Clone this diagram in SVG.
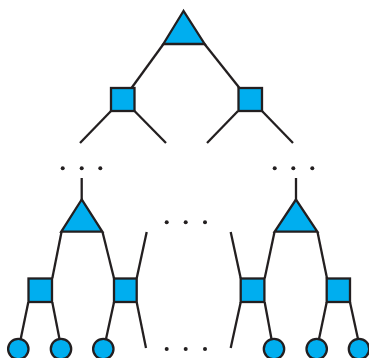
<svg xmlns="http://www.w3.org/2000/svg" width="369" height="358" viewBox="0 0 369 358">
  <style>
    .node { fill: #00AEEF; stroke: #231F20; stroke-width: 2.3; stroke-linejoin: miter; }
    .edge { fill: none; stroke: #231F20; stroke-width: 2.3; stroke-linecap: butt; }
    .dot { fill: #231F20; }
  </style>
  <rect width="369" height="358" fill="#ffffff"/>

  <!-- connectors -->
  <g id="connectors" class="edge">
    <!-- root to level-1 squares -->
    <line x1="163.5" y1="44" x2="131.5" y2="88"/>
    <line x1="204.5" y1="44" x2="239.5" y2="88"/>
    <!-- open branches below level-1 squares -->
    <line x1="111" y1="111" x2="80" y2="143"/>
    <line x1="134.5" y1="111" x2="166" y2="143"/>
    <line x1="238" y1="111" x2="207" y2="143"/>
    <line x1="262" y1="111" x2="293" y2="143"/>
    <!-- stems into lower triangles -->
    <line x1="81.7" y1="178" x2="81.7" y2="200"/>
    <line x1="296" y1="178" x2="296" y2="200"/>
    <!-- left subtree -->
    <line x1="61.5" y1="232" x2="52.3" y2="278.3"/>
    <line x1="102.5" y1="232" x2="114" y2="278.3"/>
    <line x1="136.7" y1="278.3" x2="146.7" y2="232"/>
    <line x1="136.7" y1="302.3" x2="146" y2="348"/>
    <line x1="28.3" y1="302.3" x2="20.7" y2="339"/>
    <line x1="52.3" y1="302.3" x2="59.5" y2="339"/>
    <line x1="114" y1="302.3" x2="106" y2="339"/>
    <!-- right subtree -->
    <line x1="240.7" y1="278.3" x2="230.7" y2="232"/>
    <line x1="240.7" y1="302.3" x2="230.7" y2="348"/>
    <line x1="274.5" y1="232" x2="264.7" y2="278.3"/>
    <line x1="317.5" y1="232" x2="327" y2="278.3"/>
    <line x1="264.7" y1="302.3" x2="271.5" y2="339"/>
    <line x1="326.7" y1="302.3" x2="319" y2="339"/>
    <line x1="350" y1="302.3" x2="358" y2="339"/>
  </g>

  <!-- root -->
  <g id="root"><polygon class="node" points="183.5,11 163.3,44 204.7,44"/></g>

  <!-- level-1 squares -->
  <g id="sq-top-left"><rect class="node" x="111" y="88" width="23.5" height="23"/></g>
  <g id="sq-top-right"><rect class="node" x="238.5" y="88" width="23.5" height="23"/></g>

  <!-- lower triangles -->
  <g id="tri-left"><polygon class="node" points="81.7,199.5 61.3,231.7 102.3,231.7"/></g>
  <g id="tri-right"><polygon class="node" points="296,199.5 274.7,231.7 317.3,231.7"/></g>

  <!-- lower squares -->
  <g id="sq-1"><rect class="node" x="28.5" y="278.5" width="23.5" height="23.5"/></g>
  <g id="sq-2"><rect class="node" x="114" y="278.5" width="22.7" height="23.5"/></g>
  <g id="sq-3"><rect class="node" x="240.7" y="278.5" width="23.7" height="23.5"/></g>
  <g id="sq-4"><rect class="node" x="326.7" y="278.5" width="23.3" height="23.5"/></g>

  <!-- leaves -->
  <g id="leaf-1"><circle class="node" cx="18.3" cy="349" r="10.2"/></g>
  <g id="leaf-2"><circle class="node" cx="61" cy="349" r="10.2"/></g>
  <g id="leaf-3"><circle class="node" cx="103.3" cy="349" r="10.2"/></g>
  <g id="leaf-4"><circle class="node" cx="274" cy="349" r="10.2"/></g>
  <g id="leaf-5"><circle class="node" cx="316.7" cy="349" r="10.2"/></g>
  <g id="leaf-6"><circle class="node" cx="359" cy="349" r="10.2"/></g>

  <!-- ellipsis dots -->
  <g id="ellipses" class="dot">
    <circle cx="62.7" cy="168.3" r="2"/>
    <circle cx="81.7" cy="168.3" r="2"/>
    <circle cx="100.3" cy="168.3" r="2"/>
    <circle cx="274.7" cy="168.3" r="2"/>
    <circle cx="293.3" cy="168.3" r="2"/>
    <circle cx="312.3" cy="168.3" r="2"/>
    <circle cx="166.7" cy="222.3" r="2"/>
    <circle cx="185.7" cy="222.3" r="2"/>
    <circle cx="205" cy="222.3" r="2"/>
    <circle cx="166.7" cy="349" r="2"/>
    <circle cx="185.7" cy="349" r="2"/>
    <circle cx="205" cy="349" r="2"/>
  </g>
</svg>
